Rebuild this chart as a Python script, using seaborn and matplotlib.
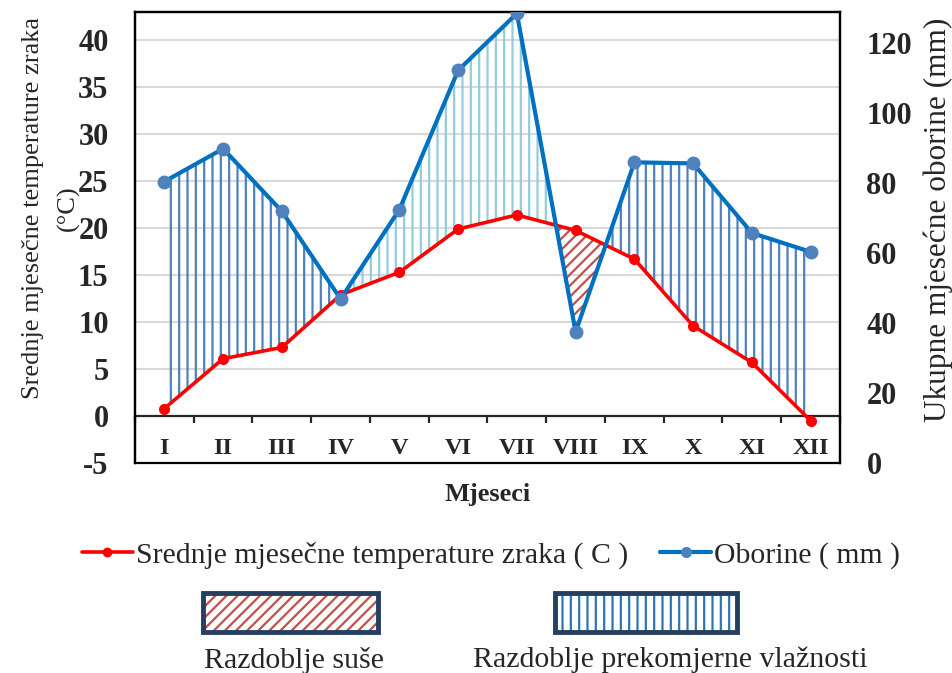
import numpy as np
import pandas as pd
import seaborn as sns
import matplotlib.pyplot as plt
from matplotlib.patches import Rectangle
from matplotlib.lines import Line2D

# data
months = ['I', 'II', 'III', 'IV', 'V', 'VI', 'VII', 'VIII', 'IX', 'X', 'XI', 'XII']
temp = [0.8, 6.1, 7.3, 12.9, 15.3, 19.9, 21.4, 19.75, 16.7, 9.6, 5.7, -0.5]
precip = [80.5, 89.9, 72.0, 46.9, 72.5, 112.3, 128.6, 37.5, 86.0, 85.7, 65.8, 60.4]

T_MIN, T_MAX = -5, 43
P_MIN, P_MAX = 0, 129

df = pd.DataFrame({'x': np.arange(len(months)), 'temp': temp, 'precip': precip})

sns.set_style('white')
plt.rcParams['font.family'] = ['Liberation Serif', 'DejaVu Serif']
plt.rcParams['hatch.linewidth'] = 1.6
plt.rcParams['axes.unicode_minus'] = False

fig = plt.figure(figsize=(9.53, 6.73), dpi=100)
ax = fig.add_axes([135 / 953, 1 - 463 / 673, 705 / 953, 451 / 673])
ax2 = ax.twinx()

# precipitation in temperature units for the fills
x = df['x'].values
t = df['temp'].values
p_conv = (df['precip'].values - P_MIN) / (P_MAX - P_MIN) * (T_MAX - T_MIN) + T_MIN

dark_blue = '#4f81bd'
light_blue = '#93cddd'
ax.fill_between(x, t, p_conv, where=(x <= 3) & (p_conv >= t), interpolate=True,
                facecolor='none', edgecolor=dark_blue, hatch='||', linewidth=0, zorder=1)
ax.fill_between(x, t, p_conv, where=(x >= 3) & (x <= 7) & (p_conv >= t), interpolate=True,
                facecolor='none', edgecolor=light_blue, hatch='||', linewidth=0, zorder=1)
ax.fill_between(x, t, p_conv, where=(x >= 7) & (p_conv >= t), interpolate=True,
                facecolor='none', edgecolor=dark_blue, hatch='||', linewidth=0, zorder=1)
ax.fill_between(x, t, p_conv, where=(p_conv <= t), interpolate=True,
                facecolor='none', edgecolor='#c0504d', hatch='///', linewidth=0, zorder=1)

sns.lineplot(data=df, x='x', y='temp', ax=ax, color='#ff0000', linewidth=2.6,
             marker='o', markersize=8, markeredgewidth=0, zorder=3)
sns.lineplot(data=df, x='x', y='precip', ax=ax2, color='#0070c0', linewidth=3,
             marker='o', markersize=10, markerfacecolor='#4f81bd', markeredgewidth=0, zorder=3)

ax.set_xlim(-0.5, len(months) - 0.5)
ax.set_ylim(T_MIN, T_MAX)
ax2.set_ylim(P_MIN, P_MAX)

ax.set_yticks(np.arange(-5, 41, 5))
ax2.set_yticks(np.arange(0, 121, 20))
ax.yaxis.grid(True, color='#d9d9d9', linewidth=1.5)
ax.set_axisbelow(True)

# category axis sits on 0 °C
ax.spines['bottom'].set_position(('data', 0))
ax.spines['bottom'].set_linewidth(1.6)
ax.set_xticks(np.arange(-0.5, len(months), 1))
ax.set_xticklabels([])
ax.set_xticks(x, minor=True)
ax.set_xticklabels(months, minor=True, fontsize=17.5, fontweight='bold')
ax.tick_params(axis='x', which='major', direction='out', length=5, width=1.6, bottom=True)
ax.tick_params(axis='x', which='minor', length=0, pad=16)
ax2.xaxis.set_visible(False)

for s in ['left', 'right', 'top']:
    ax.spines[s].set_color('black')
    ax.spines[s].set_linewidth(1.6)
for s in ax2.spines.values():
    s.set_color('black')
    s.set_linewidth(1.6)

ax.tick_params(axis='y', length=0, pad=19, labelsize=22)
ax2.tick_params(axis='y', length=0, pad=19, labelsize=22)
for lab in ax.get_yticklabels() + ax2.get_yticklabels():
    lab.set_fontweight('bold')

ax.set_xlabel('')
ax.set_ylabel('Srednje mjesečne temperature zraka\n(°C)', fontsize=19, linespacing=1.75)
ax.yaxis.set_label_coords(-0.078, 0.565)
ax2.set_ylabel('Ukupne mjesećne oborine (mm)', fontsize=22.5)
ax2.yaxis.set_label_coords(1.118, 0.539)
fig.text(487.5 / 953, 1 - 495 / 673, 'Mjeseci', ha='center', va='center',
         fontsize=19, fontweight='bold')

# legend: line entries
handles = [Line2D([], [], color='#ff0000', lw=2.6, marker='o', markersize=7, markeredgewidth=0),
           Line2D([], [], color='#0070c0', lw=3, marker='o', markersize=8,
                  markerfacecolor='#4f81bd', markeredgewidth=0)]
fig.legend(handles, ['Srednje mjesečne temperature zraka ( C )', 'Oborine ( mm )'],
           loc='center', bbox_to_anchor=(491 / 953, 1 - 555 / 673), ncol=2, frameon=False,
           fontsize=21.4, handlelength=1.7, handletextpad=0.1, columnspacing=1.1)

# legend: period boxes
for x0, x1, xt, hc, hatch, txt in [(203, 378, 294, '#c0504d', '///', 'Razdoblje suše'),
                                   (555, 737, 670, '#2e75b6', '||', 'Razdoblje prekomjerne vlažnosti')]:
    fig.patches.append(Rectangle((x0 / 953, 1 - 632 / 673), (x1 - x0) / 953, 39 / 673,
                                 transform=fig.transFigure, facecolor='white',
                                 edgecolor=hc, hatch=hatch, linewidth=0))
    fig.patches.append(Rectangle((x0 / 953, 1 - 632 / 673), (x1 - x0) / 953, 39 / 673,
                                 transform=fig.transFigure, facecolor='none',
                                 edgecolor='#243f60', linewidth=3.5))
    fig.text(xt / 953, 1 - 660 / 673, txt, ha='center', va='center', fontsize=21.5)

fig.savefig('out.png', dpi=100)
